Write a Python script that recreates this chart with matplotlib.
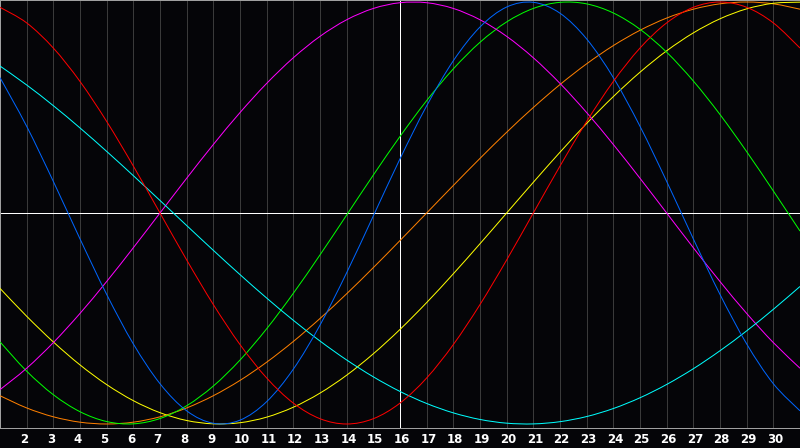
import matplotlib
matplotlib.use('Agg')
from matplotlib import pyplot as plt
from matplotlib.path import Path
from matplotlib.patches import PathPatch

days = list(range(1, 32))
day_labels = [str(d) for d in range(2, 31)]
today = 16

# one list per cycle, value at each day
red = [0.9749, 0.9010, 0.7818, 0.6235, 0.4339, 0.2225, 0.0, -0.2225, -0.4339, -0.6235,
       -0.7818, -0.9010, -0.9749, -1.0, -0.9749, -0.9010, -0.7818, -0.6235, -0.4339, -0.2225,
       0.0, 0.2225, 0.4339, 0.6235, 0.7818, 0.9010, 0.9749, 1.0, 0.9749, 0.9010, 0.7818]
blue = [0.6417, 0.4109, 0.1497, -0.1227, -0.3859, -0.6205, -0.8090, -0.9376, -0.9966, -0.9818,
        -0.8941, -0.7400, -0.5313, -0.2829, -0.0137, 0.2566, 0.5079, 0.7216, 0.8815, 0.9762,
        0.9985, 0.9468, 0.8248, 0.6417, 0.4109, 0.1497, -0.1227, -0.3859, -0.6205, -0.8090, -0.9376]
cyan = [0.6966, 0.6068, 0.5086, 0.4031, 0.2920, 0.1769, 0.0593, -0.0593, -0.1769, -0.2920,
        -0.4031, -0.5086, -0.6068, -0.6966, -0.7765, -0.8458, -0.9028, -0.9473, -0.9785, -0.9961,
        -0.9996, -0.9890, -0.9647, -0.9267, -0.8757, -0.8126, -0.7381, -0.6528, -0.5586, -0.4566, -0.3482]
magenta = [-0.8372, -0.7357, -0.6142, -0.4759, -0.3247, -0.1646, 0.0, 0.1646, 0.3247, 0.4759,
           0.6142, 0.7357, 0.8372, 0.9158, 0.9694, 0.9966, 0.9966, 0.9694, 0.9158, 0.8372,
           0.7357, 0.6142, 0.4759, 0.3247, 0.1646, 0.0, -0.1646, -0.3247, -0.4759, -0.6142, -0.7357]
green = [-0.6107, -0.7496, -0.8612, -0.9418, -0.9884, -0.9993, -0.9740, -0.9135, -0.8201, -0.6970,
         -0.5486, -0.3805, -0.1986, -0.0095, 0.1799, 0.3628, 0.5326, 0.6831, 0.8090, 0.9056,
         0.9695, 0.9984, 0.9911, 0.9480, 0.8708, 0.7620, 0.6256, 0.4667, 0.2908, 0.1045, -0.0856]
orange = [-0.8660, -0.9239, -0.9659, -0.9914, -1.0, -0.9914, -0.9659, -0.9239, -0.8660, -0.7934,
          -0.7071, -0.6088, -0.5, -0.3827, -0.2588, -0.1305, 0.0, 0.1305, 0.2588, 0.3827,
          0.5, 0.6088, 0.7071, 0.7934, 0.8660, 0.9239, 0.9659, 0.9914, 1.0, 0.9914, 0.9659]
yellow = [-0.3572, -0.4894, -0.6111, -0.7199, -0.8133, -0.8894, -0.9464, -0.9834, -0.9993, -0.9940,
          -0.9675, -0.9204, -0.8536, -0.7687, -0.6672, -0.5518, -0.4245, -0.2881, -0.1456, 0.0,
          0.1456, 0.2881, 0.4245, 0.5518, 0.6672, 0.7687, 0.8536, 0.9204, 0.9675, 0.9940, 0.9993]


def smooth_path(xs, ys):
    # catmull-rom through the daily points, drawn as cubic bezier pieces
    pts = list(zip(xs, ys))
    verts = [pts[0]]
    codes = [Path.MOVETO]
    n = len(pts)
    for i in range(n - 1):
        p0 = pts[max(i - 1, 0)]
        p1 = pts[i]
        p2 = pts[i + 1]
        p3 = pts[min(i + 2, n - 1)]
        c1 = (p1[0] + (p2[0] - p0[0]) / 6, p1[1] + (p2[1] - p0[1]) / 6)
        c2 = (p2[0] - (p3[0] - p1[0]) / 6, p2[1] - (p3[1] - p1[1]) / 6)
        verts += [c1, c2, p2]
        codes += [Path.CURVE4] * 3
    return Path(verts, codes)


bg = '#050508'
fig = plt.figure(figsize=(8, 4.48), dpi=100, facecolor=bg)
ax = fig.add_axes([0, 20 / 448, 1, 428 / 448])
ax.set_facecolor(bg)

px = 0.72  # one pixel in points
for d in range(2, 31):
    ax.axvline(d, color='#3a3a3a', lw=px, zorder=1)
ax.axvline(today, color='white', lw=px, zorder=2)
ax.axhline(0, color='white', lw=px, zorder=2)

series = [(orange, '#ff8000'), (yellow, '#ffff00'), (green, '#00ff00'),
          (magenta, '#ff00ff'), (cyan, '#00ffff'), (blue, '#0066ff'), (red, '#ff0000')]
for vals, col in series:
    ax.add_patch(PathPatch(smooth_path(days, vals), fill=False, edgecolor=col,
                           lw=px, zorder=3))

ax.set_xlim(1, 31)
ax.set_ylim(-1.019, 1.0095)
ax.set_xticks([])
ax.set_yticks([])
for s in ax.spines.values():
    s.set_color('#a0a0a0')
    s.set_linewidth(px)

# day numbers sit just under the frame, starting a little left of each grid line
for d, lab in zip(range(2, 31), day_labels):
    ax.text(d - 0.24, -0.026, lab, transform=ax.get_xaxis_transform(),
            ha='left', va='center', color='white', fontsize=8.5,
            fontweight='bold', family='DejaVu Sans')

fig.savefig('out.png', dpi=100, facecolor=bg)
